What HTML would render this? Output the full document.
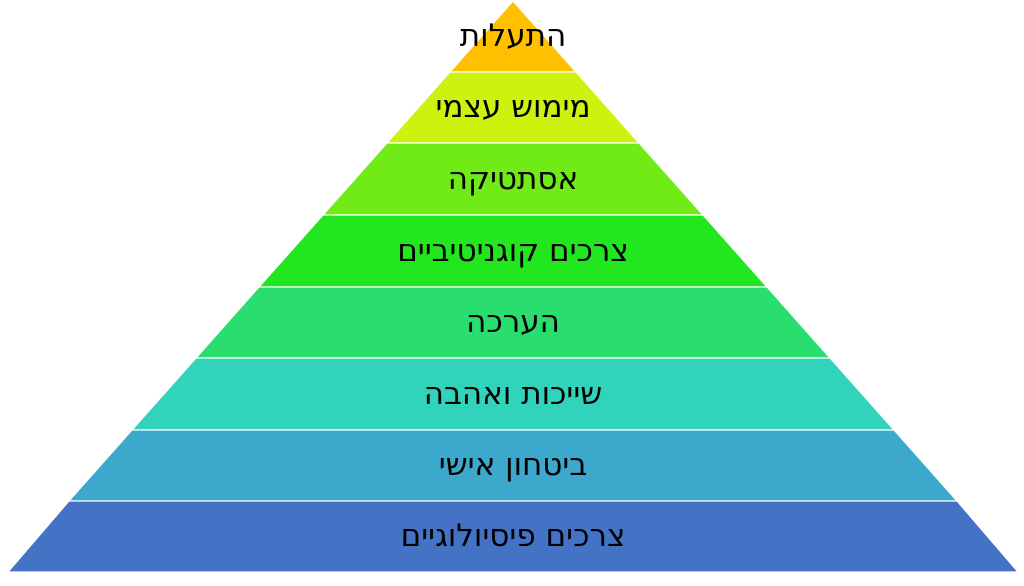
<!DOCTYPE html>
<html><head><meta charset="utf-8"><style>
body{margin:0;background:#fff;width:1024px;height:581px;overflow:hidden}
text{font-family:"DejaVu Sans","Liberation Sans",sans-serif;font-size:31px;fill:#000}
</style></head><body>
<svg width="1024" height="581" viewBox="0 0 1024 581">
<g stroke="#fff" stroke-width="1.2">
<polygon points="513,1 576,72 450,72" fill="#FFC000"/>
<polygon points="450,72 576,72 639,143 387,143" fill="#CCF20D"/>
<polygon points="387,143 639,143 703,215 323,215" fill="#70EB15"/>
<polygon points="323,215 703,215 767,287 259,287" fill="#22E61E"/>
<polygon points="259,287 767,287 830,358 196,358" fill="#29DD6E"/>
<polygon points="196,358 830,358 894,430 132,430" fill="#31D4BA"/>
<polygon points="132,430 894,430 957,501 69,501" fill="#3CA9CC"/>
<polygon points="69,501 957,501 1018,572 8,572" fill="#4472C4"/>
</g>
<g text-anchor="middle" direction="rtl">
<text x="513" y="46">התעלות</text>
<text x="513" y="117">מימוש עצמי</text>
<text x="513" y="189">אסתטיקה</text>
<text x="513" y="261">צרכים קוגניטיביים</text>
<text x="513" y="332">הערכה</text>
<text x="513" y="404">שייכות ואהבה</text>
<text x="513" y="475">ביטחון אישי</text>
<text x="513" y="546">צרכים פיסיולוגיים</text>
</g>
</svg>
</body></html>
